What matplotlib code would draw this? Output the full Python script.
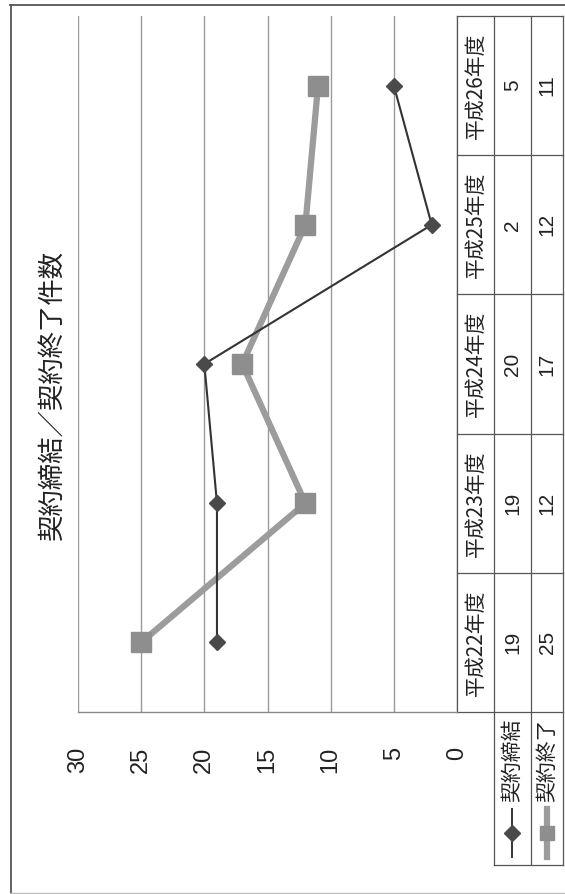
import matplotlib.pyplot as plt
from matplotlib.lines import Line2D
from matplotlib.transforms import blended_transform_factory

plt.rcParams['font.family'] = ['Noto Sans CJK JP', 'DejaVu Sans']
NUM_FONT = ['Liberation Sans', 'DejaVu Sans']

years = ['平成22年度', '平成23年度', '平成24年度', '平成25年度', '平成26年度']
signed = [19, 19, 20, 2, 5]
ended = [25, 12, 17, 12, 11]
series_names = ['契約締結', '契約終了']
value_ticks = [0, 5, 10, 15, 20, 25, 30]
title = '契約締結／契約終了件数'

W, H = 565, 894
fig = plt.figure(figsize=(W / 100, H / 100), dpi=100)

# chart is drawn turned on its side: values run right->left, years bottom->top
ax = fig.add_axes([78 / W, 1 - 712 / H, (457 - 78) / W, (712 - 16) / H])
idx = list(range(len(years)))
ax.set_xlim(30, 0)
ax.set_ylim(-0.5, len(years) - 0.5)
ax.set_autoscale_on(False)
for v in value_ticks:
    ax.axvline(v, color='#9a9a9a', lw=1.0, zorder=1)
for s in ['top', 'left', 'right']:
    ax.spines[s].set_visible(False)
ax.spines['bottom'].set_color('#8a8a8a')
ax.spines['bottom'].set_linewidth(1.0)
ax.set_xticks(value_ticks)
ax.set_xticklabels([str(v) for v in value_ticks], rotation=90, fontsize=17,
                   family=NUM_FONT, color='#222222', va='top', ha='center')
ax.tick_params(axis='x', length=0, pad=25)
ax.set_yticks([])

ax.plot(ended, idx, color='#9c9c9c', lw=4.5, marker='s', ms=14,
        mfc='#8e8e8e', mec='#8e8e8e', zorder=3, solid_capstyle='round')
ax.plot(signed, idx, color='#333333', lw=1.5, marker='D', ms=8.5,
        mfc='#4a4a4a', mec='#4a4a4a', zorder=4)

# data table to the right of the plot
tr = blended_transform_factory(ax.transAxes, ax.transData)
cols = [1.0, 1.0976, 1.195, 1.28]
bottom_leg = -1.6
lc = '#555555'
ax.add_line(Line2D([cols[0], cols[0]], [-0.5, len(years) - 0.5], transform=tr,
                   color=lc, lw=0.9, clip_on=False))
for c in cols[1:]:
    ax.add_line(Line2D([c, c], [bottom_leg, len(years) - 0.5], transform=tr,
                       color=lc, lw=0.9, clip_on=False))
for k in range(len(years) + 1):
    y = k - 0.5
    ax.add_line(Line2D([cols[0], cols[-1]], [y, y], transform=tr,
                       color=lc, lw=0.9, clip_on=False))
ax.add_line(Line2D([cols[1], cols[-1]], [bottom_leg, bottom_leg], transform=tr,
                   color=lc, lw=0.9, clip_on=False))

for i, yr in enumerate(years):
    ax.text((cols[0] + cols[1]) / 2, i, yr, transform=tr, rotation=90,
            ha='center', va='center', fontsize=15, color='#222222')
    ax.text((cols[1] + cols[2]) / 2, i, str(signed[i]), transform=tr, rotation=90,
            ha='center', va='center', fontsize=15, family=NUM_FONT, color='#222222')
    ax.text((cols[2] + cols[3]) / 2, i, str(ended[i]), transform=tr, rotation=90,
            ha='center', va='center', fontsize=15, family=NUM_FONT, color='#222222')

# legend keys inside the table rows
lines = [dict(color='#333333', lw=1.4), dict(color='#9c9c9c', lw=4.5)]
marks = [dict(marker='D', ms=8, mfc='#4a4a4a', mec='#4a4a4a'),
         dict(marker='s', ms=10, mfc='#8e8e8e', mec='#8e8e8e')]
for j, name in enumerate(series_names):
    cx = (cols[j + 1] + cols[j + 2]) / 2
    ax.text(cx, -0.845, name, transform=tr, rotation=90, ha='center', va='center',
            fontsize=15, color='#222222')
    ax.add_line(Line2D([cx, cx], [-1.2, -1.54], transform=tr, clip_on=False, **lines[j]))
    ax.add_line(Line2D([cx], [-1.37], transform=tr, clip_on=False, lw=0, **marks[j]))

fig.text(52 / W, 1 - 395 / H, title, rotation=90, ha='center', va='center',
         fontsize=19, color='#222222')

# outer chart frame
fig.add_artist(Line2D([11 / W, 11 / W], [1 - 5 / H, 1 - 893 / H], color='#555555', lw=1.3))
fig.add_artist(Line2D([10 / W, 1], [1 - 5 / H, 1 - 5 / H], color='#555555', lw=1.3))
fig.add_artist(Line2D([10 / W, 1], [1 - 893 / H, 1 - 893 / H], color='#bbbbbb', lw=1.0))

fig.savefig('out.png', dpi=100)
